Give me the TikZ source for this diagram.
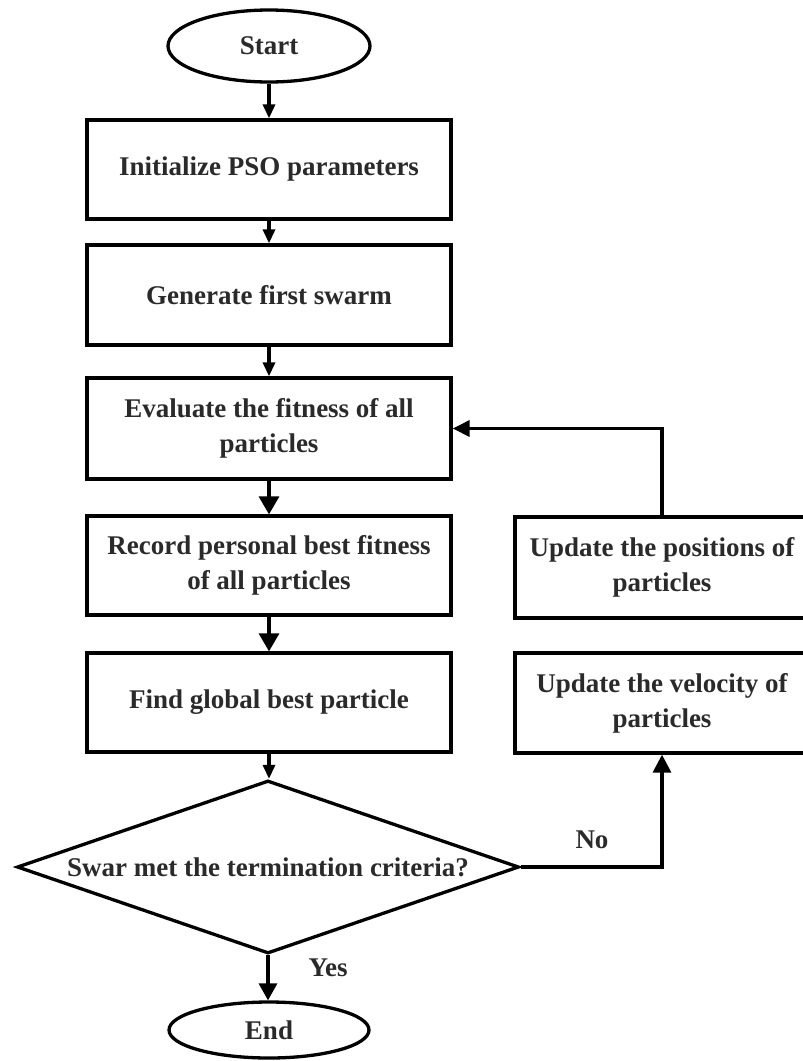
\documentclass[tikz,border=0pt]{standalone}
\usepackage{fontspec}
\setmainfont{Liberation Serif}
\usetikzlibrary{arrows.meta,shapes.geometric}
\definecolor{txt}{RGB}{42,42,42}
\tikzset{
  lbl/.style={font=\fontsize{27}{35}\selectfont\bfseries, text=txt, align=center},
  procbox/.style={lbl, draw=black, line width=3.3pt, rectangle, inner sep=0pt, minimum width=364pt},
  term/.style={lbl, draw=black, line width=3.3pt, ellipse, inner sep=0pt},
  decision/.style={lbl, draw=black, line width=3.3pt, diamond, aspect=2.9, inner sep=0pt, minimum width=502pt, minimum height=173pt},
  conn/.style={line width=3.3pt, draw=black},
  smallhead/.style={conn, -{Triangle[length=14pt,width=12pt]}},
  bighead/.style={conn, -{Triangle[length=18pt,width=20pt]}},
}
\begin{document}
\begin{tikzpicture}[x=1pt,y=-1pt]
\useasboundingbox (0,0) rectangle (803,1061);
\fill[white] (0,0) rectangle (803,1061);
\clip (0,0) rectangle (803,1061);

\node[term, minimum width=202pt, minimum height=72pt] (start) at (269,46) {Start};
\node[procbox, minimum height=99pt] (b1) at (269,169.5) {Initialize PSO parameters};
\node[procbox, minimum height=100pt] (b2) at (269,295) {Generate first swarm};
\node[procbox, minimum height=101pt] (b3) at (269,428.5) {Evaluate the fitness of all\\particles};
\node[procbox, minimum height=99pt] (b4) at (269,565.5) {Record personal best fitness\\of all particles};
\node[procbox, minimum height=99pt] (b5) at (269,702.5) {Find global best particle};
\node[decision] (dia) at (268,867) {Swar met the termination criteria?};
\node[term, minimum width=200pt, minimum height=56pt] (end) at (269,1030) {End};

\node[procbox, minimum width=294pt, minimum height=101pt] (pos) at (662,567.5) {Update the positions of\\particles};
\node[procbox, minimum width=294pt, minimum height=100pt] (vel) at (662,703) {Update the velocity of\\particles};

\draw[smallhead] (start.south) -- (b1.north);
\draw[smallhead] (b1.south) -- (b2.north);
\draw[smallhead] (b2.south) -- (b3.north);
\draw[bighead] (b3.south) -- (b4.north);
\draw[bighead] (b4.south) -- (b5.north);
\draw[smallhead] (b5.south) -- (b5.south |- dia.north);
\draw[conn, -{Triangle[length=17pt,width=18pt]}] (dia.south) -- (dia.south |- end.north);
\draw[conn, -{Triangle[length=18pt,width=18pt]}] (dia.east) -| (vel.south);
\draw[conn, -{Triangle[length=17pt,width=16pt]}] (pos.north) |- (b3.east);

\node[lbl] (yes) at (328,968) {Yes};
\node[lbl] (no) at (592,840) {No};
\end{tikzpicture}
\end{document}
